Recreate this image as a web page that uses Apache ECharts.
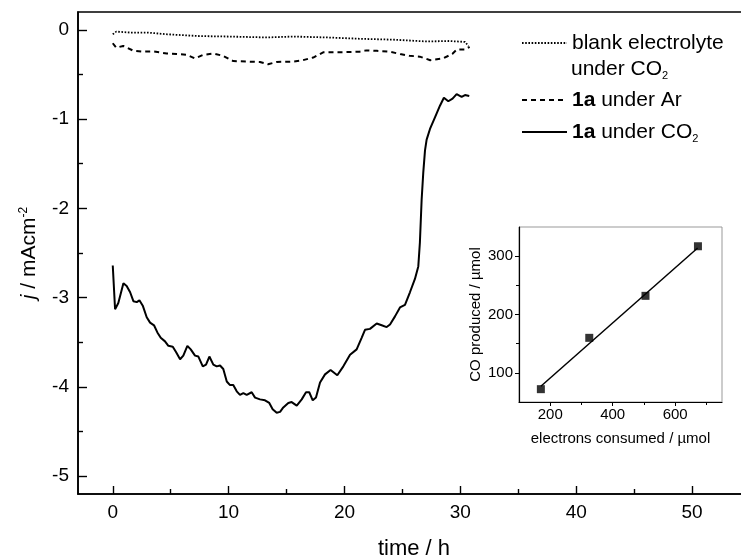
<!DOCTYPE html>
<html>
<head>
<meta charset="utf-8">
<script src="https://cdn.jsdelivr.net/npm/echarts@6/dist/echarts.min.js"></script>
<style>
	html, body { margin: 0; padding: 0; background: #fff; }
	#chart { width: 741px; height: 560px; }
</style>
</head>
<body>
<div id="chart"></div>
<script>
// ---------- DATA ----------

// blank electrolyte under CO2 (dotted)
const blankTime = [0, 0.3, 1.5, 3, 4.7, 7.5, 10, 13.3, 15.6, 18.5, 21.3, 24.2, 27.1, 29, 30.4, 30.7];
const blankJ = [-0.05, -0.02, -0.03, -0.03, -0.05, -0.07, -0.075, -0.085, -0.075, -0.085, -0.1, -0.11, -0.13, -0.125, -0.135, -0.18];

// 1a under Ar (dashed)
const arTime = [0, 0.3, 0.9, 1.8, 2.6, 3.5, 4.66, 5.5, 6.4, 7.1, 7.8, 8.7, 9.5, 10.4, 11.6, 12.7, 13.4, 14.15,
	15.6, 16.4, 17.3, 18.2, 19.9, 21.3, 21.9, 22.8, 23.9, 24.8, 25.6, 26.5, 27.4, 28.5, 29.3, 29.7, 30.4, 30.8];
const arJ = [-0.15, -0.2, -0.18, -0.235, -0.245, -0.24, -0.265, -0.27, -0.28, -0.32, -0.28, -0.265, -0.29, -0.35,
	-0.355, -0.36, -0.385, -0.36, -0.355, -0.34, -0.31, -0.25, -0.25, -0.245, -0.23, -0.235, -0.245, -0.27, -0.29,
	-0.3, -0.34, -0.32, -0.27, -0.22, -0.22, -0.19];

// 1a under CO2 (solid)
const co2Time = [0, 0.2, 0.48, 0.92, 1.2, 1.5, 1.78, 2.07, 2.3, 2.59, 2.93, 3.22, 3.56, 3.85, 4.14, 4.51, 4.8,
	5.18, 5.46, 5.81, 6.09, 6.44, 6.73, 7.1, 7.39, 7.77, 8.05, 8.34, 8.68, 8.97, 9.26, 9.54, 9.84, 10.12, 10.4,
	10.7, 10.98, 11.27, 11.56, 11.99, 12.28, 12.71, 13.14, 13.51, 13.8, 14.15, 14.44, 14.72, 15.15, 15.44, 15.88,
	16.31, 16.68, 16.96, 17.26, 17.54, 17.89, 18.32, 18.8, 19.38, 19.9, 20.48, 21.05, 21.48, 21.77, 22.2, 22.78,
	23.21, 23.64, 23.93, 24.36, 24.79, 25.22, 25.65, 26.08, 26.37, 26.51, 26.66, 26.8, 26.95, 27.09, 27.38,
	27.81, 28.24, 28.58, 28.96, 29.33, 29.68, 30.11, 30.4, 30.77];
const co2J = [-2.64, -3.13, -3.06, -2.84, -2.87, -2.94, -3.04, -3.05, -3.03, -3.09, -3.22, -3.28, -3.31, -3.39,
	-3.45, -3.49, -3.54, -3.55, -3.61, -3.69, -3.65, -3.54, -3.58, -3.65, -3.66, -3.77, -3.75, -3.66, -3.75,
	-3.77, -3.76, -3.8, -3.94, -3.98, -3.98, -4.05, -4.09, -4.07, -4.09, -4.06, -4.12, -4.14, -4.15, -4.18,
	-4.25, -4.29, -4.28, -4.23, -4.18, -4.17, -4.21, -4.14, -4.06, -4.06, -4.15, -4.12, -3.95, -3.86, -3.81,
	-3.87, -3.77, -3.64, -3.58, -3.45, -3.36, -3.35, -3.29, -3.31, -3.33, -3.3, -3.21, -3.11, -3.08, -2.94,
	-2.79, -2.65, -2.38, -1.9, -1.6, -1.35, -1.23, -1.11, -0.98, -0.85, -0.76, -0.8, -0.77, -0.72, -0.75,
	-0.73, -0.74];

// inset: CO produced vs electrons consumed
const electrons = [170, 325, 505, 673];
const coProduced = [72, 160, 232, 317];
const fitElectrons = [170, 672];
const fitCo = [77, 314];

// tick values
const timeMajor = [0, 10, 20, 30, 40, 50];
const timeMinor = [5, 15, 25, 35, 45, 55];
const jMajor = [-5, -4, -3, -2, -1, 0];
const jMinor = [-4.5, -3.5, -2.5, -1.5, -0.5];
const eMajor = [200, 400, 600];
const eMinor = [300, 500, 700];
const coMajor = [100, 200, 300];
const coMinor = [150, 250];

const FONT = 'Liberation Sans, Arial, sans-serif';

function pairs(xs, ys) {
	return xs.map((x, i) => [x, ys[i]]);
}

// ---------- CHART ----------

var chart = echarts.init(document.getElementById('chart'));

function tickAxis(opts) {
	// base axis: black line, no grid lines
	return Object.assign({
		type: 'value',
		splitLine: { show: false },
		axisLine: { show: true, onZero: false, lineStyle: { color: '#000', width: 1.6 } },
		axisTick: { show: true, lineStyle: { color: '#000', width: 1.4 } },
		axisLabel: { color: '#000', fontFamily: FONT },
		nameTextStyle: { color: '#000', fontFamily: FONT }
	}, opts);
}

let subStyle = { fontSize: 11, fontFamily: FONT, lineHeight: 2, verticalAlign: 'bottom' };

let option = {
	animation: false,
	backgroundColor: '#fff',
	textStyle: { fontFamily: FONT, color: '#000' },
	grid: [
		{
			left: 78, top: 12, right: -9, bottom: 66, outerBoundsMode: 'none',
			show: true, borderColor: '#000', borderWidth: 1.6, backgroundColor: 'transparent'
		},
		{
			left: 519, top: 227, right: 19, bottom: 158, outerBoundsMode: 'none',
			show: true, borderColor: '#999', borderWidth: 1, backgroundColor: '#fff'
		}
	],
	xAxis: [
		tickAxis({
			gridIndex: 0, position: 'bottom', min: -3, max: 55,
			axisTick: { show: true, inside: true, length: 8, customValues: timeMajor, lineStyle: { color: '#000', width: 1.4 } },
			axisLabel: { customValues: timeMajor, fontSize: 19, margin: 9, color: '#000', fontFamily: FONT },
			name: 'time / h', nameLocation: 'middle', nameGap: 44,
			nameTextStyle: { fontSize: 22, color: '#000', fontFamily: FONT }
		}),
		tickAxis({
			gridIndex: 0, position: 'bottom', min: -3, max: 55,
			axisLine: { show: false, onZero: false },
			axisTick: { show: true, inside: true, length: 5, customValues: timeMinor, lineStyle: { color: '#000', width: 1.4 } },
			axisLabel: { show: false }
		}),
		tickAxis({
			gridIndex: 1, position: 'bottom', min: 100, max: 750,
			axisTick: { show: true, length: 4, customValues: eMajor, lineStyle: { color: '#000', width: 1 } },
			axisLabel: { customValues: eMajor, fontSize: 15, margin: 5, color: '#000', fontFamily: FONT },
			axisLine: { show: true, onZero: false, lineStyle: { color: '#000', width: 1.2 } },
			name: 'electrons consumed / \u00b5mol', nameLocation: 'middle', nameGap: 29,
			nameTextStyle: { fontSize: 15, color: '#000', fontFamily: FONT }
		}),
		tickAxis({
			gridIndex: 1, position: 'bottom', min: 100, max: 750,
			axisLine: { show: false, onZero: false },
			axisTick: { show: true, length: 3, customValues: eMinor, lineStyle: { color: '#000', width: 1 } },
			axisLabel: { show: false }
		})
	],
	yAxis: [
		tickAxis({
			gridIndex: 0, position: 'left', min: -5.2, max: 0.2,
			axisTick: { show: true, inside: true, length: 9, customValues: jMajor, lineStyle: { color: '#000', width: 1.4 } },
			axisLabel: { customValues: jMajor, fontSize: 19, margin: 9, color: '#000', fontFamily: FONT },
			name: '{i|j} / mAcm{sup|-2}', nameLocation: 'middle', nameGap: 33, nameRotate: 90,
			nameTextStyle: {
				fontSize: 21, color: '#000', fontFamily: FONT, lineHeight: 24,
				rich: {
					i: { fontSize: 21, fontStyle: 'italic', fontFamily: FONT, color: '#000' },
					sup: { fontSize: 12, fontFamily: FONT, color: '#000', lineHeight: 4, verticalAlign: 'top' }
				}
			}
		}),
		tickAxis({
			gridIndex: 0, position: 'left', min: -5.2, max: 0.2,
			axisLine: { show: false, onZero: false },
			axisTick: { show: true, inside: true, length: 5, customValues: jMinor, lineStyle: { color: '#000', width: 1.4 } },
			axisLabel: { show: false }
		}),
		tickAxis({
			gridIndex: 1, position: 'left', min: 50, max: 350,
			axisTick: { show: true, length: 4, customValues: coMajor, lineStyle: { color: '#000', width: 1 } },
			axisLabel: { customValues: coMajor, fontSize: 15, margin: 6, color: '#000', fontFamily: FONT },
			axisLine: { show: true, onZero: false, lineStyle: { color: '#000', width: 1.2 } },
			name: 'CO produced / \u00b5mol', nameLocation: 'middle', nameGap: 36, nameRotate: 90,
			nameTextStyle: { fontSize: 15, color: '#000', fontFamily: FONT }
		}),
		tickAxis({
			gridIndex: 1, position: 'left', min: 50, max: 350,
			axisLine: { show: false, onZero: false },
			axisTick: { show: true, length: 3, customValues: coMinor, lineStyle: { color: '#000', width: 1 } },
			axisLabel: { show: false }
		})
	],
	legend: [
		{
			data: ['blank'],
			left: 521, top: 31, padding: 0,
			itemWidth: 45, itemHeight: 14,
			selectedMode: false,
			itemStyle: { opacity: 0 },
			formatter: function () { return 'blank electrolyte'; },
			textStyle: { fontSize: 21, color: '#000', fontFamily: FONT, lineHeight: 24 }
		},
		{
			data: ['Ar', 'CO2'],
			orient: 'vertical',
			left: 521, top: 88, padding: 0,
			itemWidth: 45, itemHeight: 14, itemGap: 8,
			selectedMode: false,
			itemStyle: { opacity: 0 },
			formatter: function (name) {
				return name === 'Ar' ? '{b|1a} under Ar' : '{b|1a} under CO{sub|2}';
			},
			textStyle: {
				fontSize: 21, color: '#000', fontFamily: FONT, lineHeight: 24,
				rich: {
					b: { fontSize: 21, fontWeight: 'bold', fontFamily: FONT, color: '#000' },
					sub: subStyle
				}
			}
		}
	],
	graphic: [
		{
			type: 'text',
			left: 571, top: 57,
			style: {
				text: 'under CO{sub|2}',
				fontSize: 21, fontFamily: FONT, fill: '#000', lineHeight: 24,
				rich: { sub: { fontSize: 11, fontFamily: FONT, fill: '#000', lineHeight: 2, verticalAlign: 'bottom' } }
			}
		}
	],
	series: [
		{
			name: 'blank', type: 'line', xAxisIndex: 0, yAxisIndex: 0,
			symbol: 'none', data: pairs(blankTime, blankJ),
			itemStyle: { color: '#000' },
			lineStyle: { color: '#000', width: 1.8, type: [1.6, 1.6] }
		},
		{
			name: 'Ar', type: 'line', xAxisIndex: 0, yAxisIndex: 0,
			symbol: 'none', data: pairs(arTime, arJ),
			itemStyle: { color: '#000' },
			lineStyle: { color: '#000', width: 2, type: [5, 4] }
		},
		{
			name: 'CO2', type: 'line', xAxisIndex: 0, yAxisIndex: 0,
			symbol: 'none', data: pairs(co2Time, co2J),
			itemStyle: { color: '#000' },
			lineStyle: { color: '#000', width: 2 }
		},
		{
			name: 'fit', type: 'line', xAxisIndex: 2, yAxisIndex: 2,
			symbol: 'none', data: pairs(fitElectrons, fitCo),
			lineStyle: { color: '#000', width: 1.5 }
		},
		{
			name: 'points', type: 'scatter', xAxisIndex: 2, yAxisIndex: 2,
			symbol: 'rect', symbolSize: 8, data: pairs(electrons, coProduced),
			itemStyle: { color: '#000' }
		}
	]
};

chart.setOption(option);
</script>
</body>
</html>
